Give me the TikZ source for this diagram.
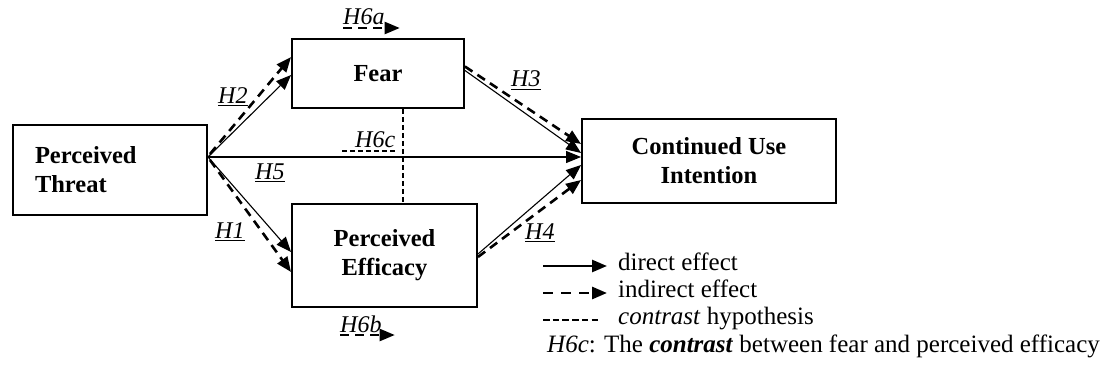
\documentclass[tikz,border=0pt]{standalone}
\usepackage{fontspec}
\setmainfont{Liberation Serif}
\usetikzlibrary{arrows.meta}
\newcommand\dgboxfont{\fontsize{24.5}{29}\selectfont\bfseries}
\newcommand\dghypfont{\fontsize{24}{28}\selectfont\itshape}
\newcommand\dglegfont{\fontsize{25}{29}\selectfont}
\begin{document}
\begin{tikzpicture}[x=1pt,y=-1pt,
  box/.style={draw,line width=1.9pt,font=\dgboxfont,align=center,inner sep=0pt},
  tip/.style={-{Triangle[length=15pt,width=12pt]}},
  direct/.style={line width=1.1pt,tip},
  indirect/.style={line width=2.6pt,dash pattern=on 9pt off 6pt,tip},
  contrastline/.style={line width=2pt,dash pattern=on 5pt off 3pt},
  hyp/.style={font=\dghypfont,anchor=base west,inner sep=0pt},
  legtext/.style={font=\dglegfont,anchor=base west,inner sep=0pt}]
\useasboundingbox (0,0) rectangle (1104,369);

% constructs
\node[box,text width=150pt,align=left,inner xsep=22pt,minimum height=90pt] (pt) at (110,170) {Perceived\\Threat};
\node[box,minimum width=172pt,minimum height=69pt] (fear) at (378,73.5) {Fear};
\node[box,minimum width=185pt,minimum height=103pt] (eff) at (384.5,255.5) {Perceived\\Efficacy};
\node[box,minimum width=254pt,minimum height=84pt] (cu) at (709,161) {Continued Use\\Intention};

% paths out of Perceived Threat
\coordinate (src) at ([yshift=13pt]pt.east);
\draw[direct] (src) -- ([yshift=-1.5pt]fear.west);
\draw[indirect] ([xshift=2pt,yshift=16pt]pt.east) -- ([yshift=16.5pt]fear.west);
\draw[direct] (src) -- ([yshift=3.5pt]eff.west);
\draw[indirect] ([xshift=2pt,yshift=10pt]pt.east) -- ([yshift=-16.5pt]eff.west);
\draw[direct] (src) -- ([yshift=4pt]cu.west);

% paths into Continued Use Intention
\draw[direct] ([yshift=3pt]fear.east) -- ([yshift=8pt]cu.west);
\draw[indirect] ([yshift=7pt]fear.east) -- ([yshift=17pt]cu.west);
\draw[direct] ([yshift=1.5pt]eff.east) -- ([yshift=-4pt]cu.west);
\draw[indirect] ([yshift=-1.5pt]eff.east) -- ([yshift=-19pt]cu.west);

% contrast between the two mediators
\draw[contrastline] ([xshift=25pt]fear.south) -- ([xshift=25pt]fear.south |- eff.north);

% hypothesis labels
\node[hyp] (h1) at (215,238) {H1};
\node[hyp] (h2) at (218,103) {H2};
\node[hyp] (h3) at (511,87) {H3};
\node[hyp] (h4) at (525,239) {H4};
\node[hyp] (h5) at (255,179) {H5};
\node[hyp] (h6a) at (343,25) {H6a};
\node[hyp] (h6b) at (340,332) {H6b};
\node[hyp] (h6c) at (355,147) {H6c};
\foreach \n in {h1,h2,h3,h4,h5}
  \draw[line width=1.1pt] ([yshift=-2.5pt]\n.base west) -- ([yshift=-2.5pt]\n.base east);
\draw[indirect,line width=2.2pt] ([yshift=-3pt]h6a.base west) -- ([yshift=-3pt,xshift=15pt]h6a.base east);
\draw[indirect,line width=2.2pt] ([yshift=-3pt]h6b.base west) -- ([yshift=-3pt,xshift=13pt]h6b.base east);
\draw[contrastline,line width=1.6pt] ([yshift=-4pt,xshift=-13pt]h6c.base west) -- ([yshift=-4pt]h6c.base east);

% legend
\coordinate (la1) at (543,266); \coordinate (la2) at (607,266);
\coordinate (lb1) at (543,293); \coordinate (lb2) at (607,293);
\coordinate (lc1) at (543,320); \coordinate (lc2) at (598,320);
\draw[line width=2.6pt,tip] (la1) -- (la2);
\draw[line width=2.8pt,dash pattern=on 10pt off 8pt,tip] (lb1) -- (lb2);
\draw[line width=2.4pt,dash pattern=on 6.5pt off 3.2pt] (lc1) -- (lc2);
\node[legtext] (t1) at (618,270) {direct effect};
\node[legtext] (t2) at (618,297) {indirect effect};
\node[legtext] (t3) at (618,324) {\textit{contrast} hypothesis};
\node[legtext] (t4) at (547,352) {\textit{H6c}: The \textbf{\textit{contrast}} between fear and perceived efficacy};
\end{tikzpicture}
\end{document}
